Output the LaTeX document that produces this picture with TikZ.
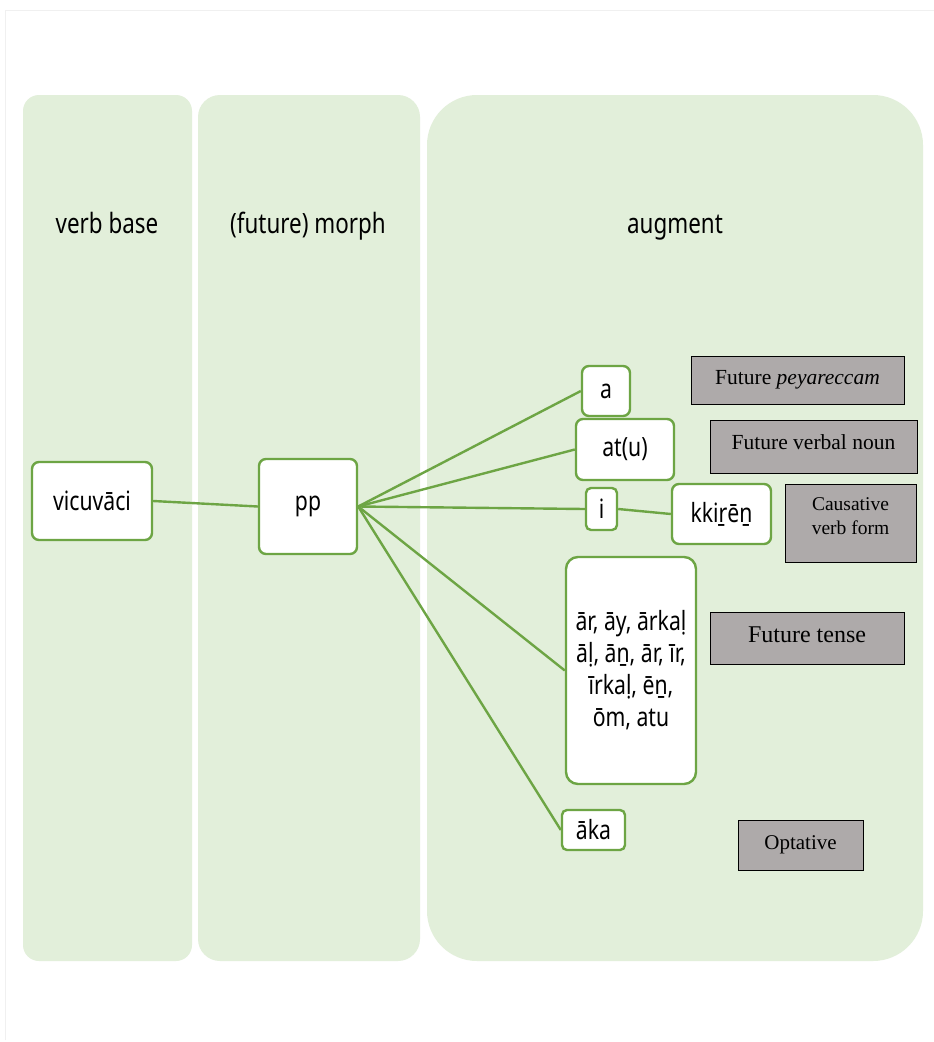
\documentclass[tikz,border=0pt]{standalone}
\usepackage{fontspec}
\setmainfont{Liberation Serif}
\newfontfamily\cnd[FakeStretch=0.8]{Noto Sans}
\definecolor{colfill}{HTML}{E2EFDA}
\definecolor{grn}{HTML}{6DA544}
\definecolor{gbox}{HTML}{AEAAAA}
\begin{document}
\begin{tikzpicture}[x=1pt,y=-1pt,
  wbox/.style={draw=grn,line width=2.4pt,fill=white,rounded corners=7pt,inner sep=0pt,align=center,font=\cnd\fontsize{26.5}{32}\selectfont},
  gbx/.style={draw=black,line width=0.8pt,fill=gbox,inner sep=0pt,align=center},
  link/.style={draw=grn,line width=2.4pt},
  hdr/.style={anchor=base,font=\cnd\fontsize{28}{32}\selectfont}]
\useasboundingbox (0,0) rectangle (934,1042);
\fill[white] (0,0) rectangle (934,1042);
% faint frame
\draw[gray!12,line width=1pt] (5,1040) -- (5,10) -- (934,10);
% columns
\fill[colfill,rounded corners=16pt] (23,95) rectangle (192,961);
\fill[colfill,rounded corners=22pt] (198,95) rectangle (420,961);
\fill[colfill,rounded corners=50pt] (427,95) rectangle (923,961);
% headers
\node[hdr] (h1) at (107,233) {verb base};
\node[hdr] (h2) at (308,233) {(future) morph};
\node[hdr] (h3) at (675,233) {augment};
% white boxes
\node[wbox,minimum width=120pt,minimum height=78pt] (vb) at (92,501) {vicuvāci};
\node[wbox,minimum width=98pt,minimum height=95pt] (pp) at (308,506.5) {pp};
\node[wbox,minimum width=48pt,minimum height=50pt] (a) at (606,391) {a};
\node[wbox,minimum width=98pt,minimum height=61pt] (atu) at (625,449.5) {at(u)};
\node[wbox,minimum width=31pt,minimum height=42pt,rounded corners=5pt] (i) at (601.5,509) {i};
\node[wbox,minimum width=99pt,minimum height=60pt] (kk) at (721.5,514) {kkiṟēṉ};
\node[wbox,minimum width=130pt,minimum height=227pt,rounded corners=12pt] (big) at (631,670.5) {ār, āy, ārkaḷ\\āḷ, āṉ, ār, īr,\\īrkaḷ, ēṉ,\\ōm, atu};
\node[wbox,minimum width=63pt,minimum height=40pt,rounded corners=5pt] (aka) at (593.5,830) {āka};
% gray boxes
\node[gbx,minimum width=213pt,minimum height=48pt,font=\fontsize{21.5}{24}\selectfont] (g1) at (797.5,380) {Future \textit{peyareccam}};
\node[gbx,minimum width=207pt,minimum height=53pt,font=\fontsize{21.5}{24}\selectfont] (g2) at (813.5,446.5) {Future verbal noun\\[-16pt]\mbox{}};
\node[gbx,minimum width=131pt,minimum height=78pt,font=\fontsize{19.5}{24}\selectfont] (g3) at (850.5,523) {Causative\\verb form\\[-10pt]\mbox{}};
\node[gbx,minimum width=194pt,minimum height=52pt,font=\fontsize{24}{26}\selectfont] (g4) at (807,638) {Future tense\\[-20pt]\mbox{}};
\node[gbx,minimum width=125pt,minimum height=50pt,font=\fontsize{21}{24}\selectfont] (g5) at (800.5,845) {Optative};
% connectors
\draw[link] (vb.east) -- (pp.west);
\draw[link] (pp.east) -- (a.west);
\draw[link] (pp.east) -- (atu.west);
\draw[link] (pp.east) -- (i.west);
\draw[link] (i.east) -- (kk.west);
\draw[link] (pp.east) -- (big.west);
\draw[link] (pp.east) -- (aka.west);
\end{tikzpicture}
\end{document}
